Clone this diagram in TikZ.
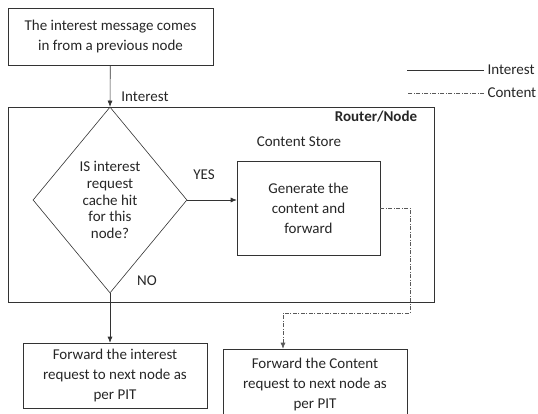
\documentclass[tikz,border=0pt]{standalone}
\usepackage{fontspec}
\setmainfont{Carlito}
\usetikzlibrary{arrows.meta,shapes.geometric}

\begin{document}
\begin{tikzpicture}[x=1pt, y=-1pt, font=\fontsize{15}{20}\selectfont, text=black!85,
  box/.style={draw=black!80, rectangle, align=center, inner sep=0pt, line width=.6pt},
  flow/.style={-{Latex[length=6pt,width=5pt]}, line width=.6pt, draw=black!80},
  cont/.style={flow, draw=black!65, dash pattern=on 4pt off 1.5pt on 1pt off 1.5pt}]
\useasboundingbox (0,0) rectangle (538,414);

\node[box, minimum width=205, minimum height=57] at (110.5,36.5) (incoming)
  {The interest message comes\\in from a previous node};
\node[box, minimum width=426, minimum height=195] at (221,204.5) (router) {};
\node[font=\fontsize{15}{20}\selectfont\bfseries] at (376,117) (routerlabel) {Router/Node};

\node[draw=black!80, diamond, line width=.6pt, minimum width=154, minimum height=186,
  inner sep=0pt, align=center, font=\fontsize{15}{16.7}\selectfont] at (110,200) (check)
  {IS interest\\request\\cache hit\\for this\\node?};
\node at (299,142) (store) {Content Store};
\node[box, minimum width=143, minimum height=94] at (308.5,208) (generate)
  {Generate the\\content and\\forward};

\node[box, minimum width=184, minimum height=65] at (115,375.5) (fwdinterest)
  {Forward the interest\\request to next node as\\per PIT};
\node[box, minimum width=184, minimum height=70] at (315,384) (fwdcontent)
  {Forward the Content\\request to next node as\\per PIT};

\draw[flow] (incoming) -- (check.north);
\node at (145,97) (interestlabel) {Interest};
\draw[flow] (check.east) -- (check.east -| generate.west);
\node at (204,175) (yes) {YES};
\draw[flow] (check.south) -- (check.south |- fwdinterest.north);
\node at (147,281) (no) {NO};

\coordinate (turn) at (410,313);
\coordinate (drop) at (283,313);
\draw[cont] (generate.east) -| (turn) -- (drop) -- (drop |- fwdcontent.north);

% legend
\node[anchor=west] at (484,70) (leginterest) {Interest};
\node[anchor=west] at (484,93) (legcontent) {Content};
\draw[line width=.6pt, draw=black!80] (leginterest.west) -- ++(-77,0);
\draw[line width=.6pt, draw=black!65, dash pattern=on 4pt off 1.5pt on 1pt off 1.5pt]
  (legcontent.west) -- ++(-77,0);
\end{tikzpicture}
\end{document}
